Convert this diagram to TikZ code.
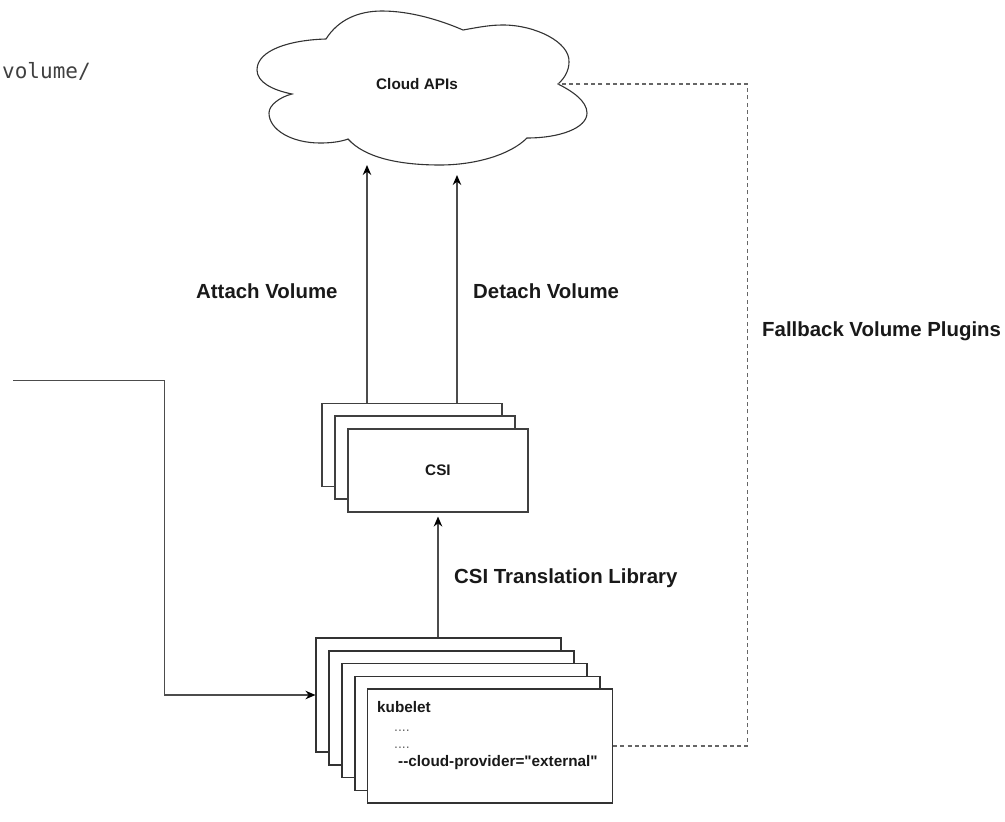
\documentclass[tikz,border=0pt]{standalone}
\usepackage{fontspec}
\setmainfont{Liberation Sans}
\newfontfamily\codefont{DejaVu Sans Mono}
\newfontfamily\flagfont{Liberation Sans}
\usetikzlibrary{arrows,arrows.meta,positioning,calc}
\tikzset{
  kubebox/.style={draw=black!80,fill=white,line width=1.1pt,minimum width=245pt,minimum height=114pt,inner sep=0pt},
  csibox/.style={draw=black!75,fill=white,line width=1.1pt,minimum width=180pt,minimum height=83pt,inner sep=0pt},
  flowline/.style={draw=black!70,line width=1.2pt,-{Stealth[length=10pt,width=8.5pt,color=black]}},
  fallbackline/.style={draw=black!60,line width=1.2pt,dash pattern=on 4pt off 3.3pt},
  biglabel/.style={font=\bfseries\fontsize{20.4}{24}\selectfont,text=black!90,inner sep=0pt,anchor=base west},
  smalllabel/.style={font=\bfseries\fontsize{15.3}{18}\selectfont,text=black!90,inner sep=0pt,anchor=base west},
  dotslabel/.style={font=\fontsize{14}{16}\selectfont,text=black!60,inner sep=0pt,anchor=base west}
}

\begin{document}
\begin{tikzpicture}[x=1pt,y=-1pt]
  \useasboundingbox (0,0) rectangle (1005,822);
  % The cloud outline
  \draw[black!80,line width=1.1pt] (326,39) .. controls (338,20) and (358,11) .. (382,11)
    .. controls (410,11) and (440,20) .. (463,30)
    .. controls (480,27) and (490,25) .. (503,25)
    .. controls (535,25) and (570,42) .. (569,62)
    .. controls (569,70) and (565,78) .. (558,84)
    .. controls (572,91) and (587,101) .. (587,113)
    .. controls (587,128) and (560,138) .. (527,138)
    .. controls (510,155) and (475,165) .. (440,165)
    .. controls (400,165) and (365,158) .. (348,139)
    .. controls (340,142) and (330,143) .. (320,143)
    .. controls (292,143) and (269,130) .. (269,113)
    .. controls (269,105) and (280,97) .. (292,94)
    .. controls (272,90) and (257,82) .. (257,70)
    .. controls (257,50) and (290,40) .. (326,39) -- cycle;
  \path (376,89) node[smalllabel] (Cloud) {Cloud APIs};
  % The free ends of the connectors
  \coordinate (Notch) at (558,84);
  \coordinate (Attach) at (367,165);
  \coordinate (Detach) at (457,175);
  \coordinate (Left) at (13,380.5);
  \coordinate (Bend) at (164.5,380.5);
  \coordinate (Corner) at (747.5,84);
  % The CSI stack
  \path (412,445) node[csibox] (C1) {};
  \path (425,457.5) node[csibox] (C2) {};
  \path (438,470.5) node[csibox] (C3) {};
  \path (425,475) node[smalllabel] (CSI) {CSI};
  % The kubelet stack
  \path (438.5,695) node[kubebox] (K1) {};
  \path (451.5,708) node[kubebox] (K2) {};
  \path (464.5,720.5) node[kubebox] (K3) {};
  \path (477.5,733.5) node[kubebox] (K4) {};
  \path (490,746) node[kubebox] (K5) {};
  \path (377,712) node[smalllabel] (Kubelet) {kubelet};
  \path (394,731) node[dotslabel] (Dots1) {....};
  \path (394,748) node[dotslabel] (Dots2) {....};
  \path (398,766) node[smalllabel] (Flag) {\flagfont\bfseries --cloud-provider="external"};
  % Draw the connectors
  \draw[flowline] (C1.north -| Attach) -- (Attach);
  \draw[flowline] (C1.north -| Detach) -- (Detach);
  \draw[flowline,shorten >=4pt] (K1.north -| C3.south) -- (C3.south);
  \draw[flowline] (Left) -- (Bend) |- (K1.west);
  \draw[fallbackline] (K5.east) -| (Corner) -- (Notch);
  % The labels
  \path (196,298) node[biglabel] (AttachText) {Attach Volume};
  \path (473,298) node[biglabel] (DetachText) {Detach Volume};
  \path (454,583) node[biglabel] (Translation) {CSI Translation Library};
  \path (762,336) node[biglabel] (Fallback) {Fallback Volume Plugins};
  \path (2,78) node[anchor=base west,inner sep=0pt,text=black!75,font=\codefont\fontsize{21}{24}\selectfont] (Volume) {volume/};
\end{tikzpicture}
\end{document}
